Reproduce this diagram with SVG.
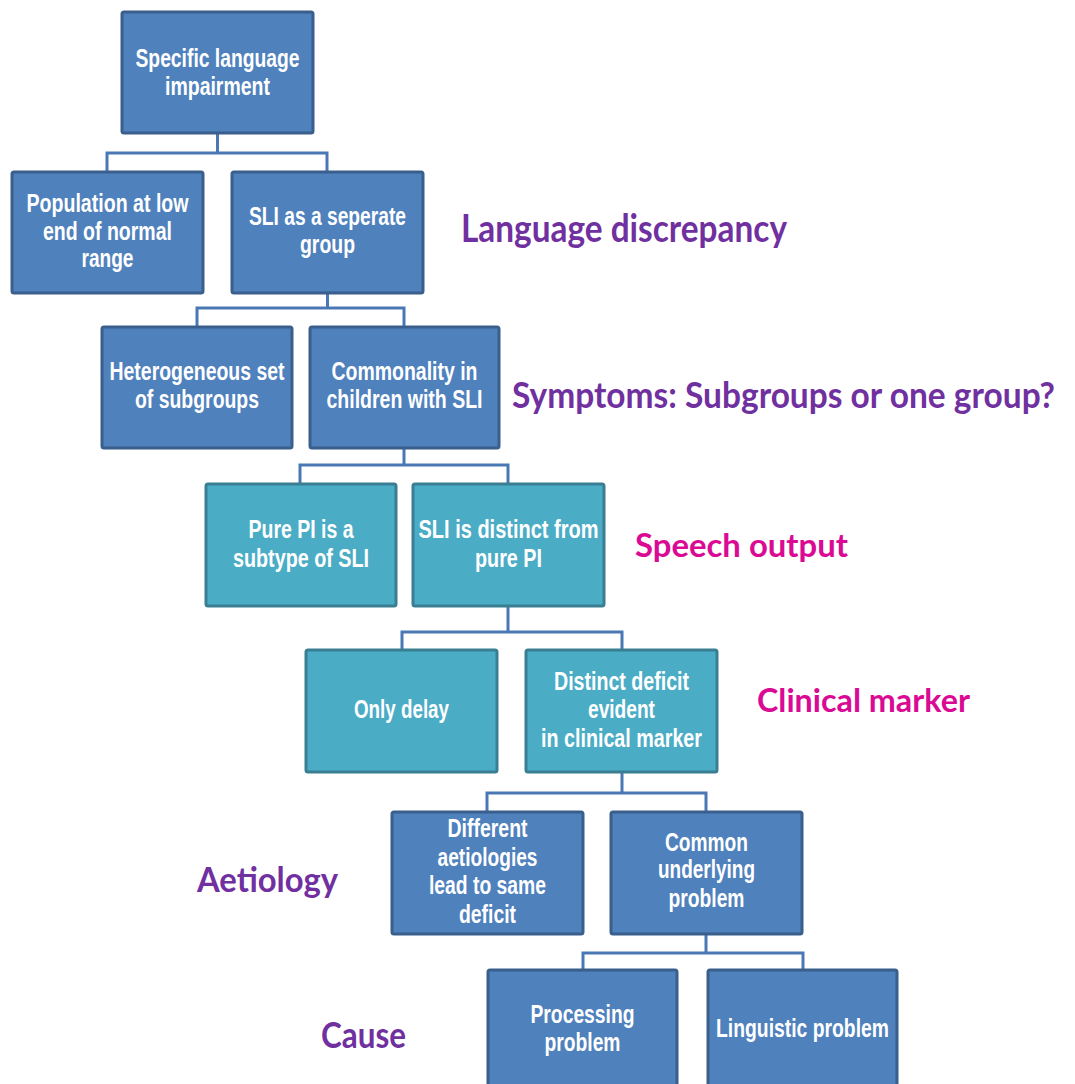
<svg xmlns="http://www.w3.org/2000/svg" width="1075" height="1084" viewBox="0 0 1075 1084">
<style>
.blue rect{fill:#4F81BD;stroke:#3A5F8C;stroke-width:3}
.teal rect{fill:#4BACC6;stroke:#3A7F91;stroke-width:3}
.node text{fill:#FFFFFF;font-family:"Liberation Sans",Arial,sans-serif;font-weight:bold;font-size:25px;text-anchor:middle}
.conn{fill:none;stroke:#4A78B5;stroke-width:3;stroke-linejoin:miter}
.lbl{font-family:Lato,"Open Sans",sans-serif;font-weight:bold}
.purple{fill:#7030A0}
.magenta{fill:#DA0A94}
</style>
<rect width="1075" height="1084" fill="#FFFFFF"/>
<g id="connectors">
<path class="conn" d="M217.5 133 V153 M107 172 V153 H327 V172"/>
<path class="conn" d="M327.5 293 V308 M197 327 V308 H404 V327"/>
<path class="conn" d="M404 448 V465 M300 484 V465 H508 V484"/>
<path class="conn" d="M508 606 V632 M402 650 V632 H622 V650"/>
<path class="conn" d="M622 772 V793 M487 812 V793 H706 V812"/>
<path class="conn" d="M706 934 V953 M583 970 V953 H803 V970"/>
</g>
<g id="n1" class="node blue"><rect x="122" y="12" width="191" height="121" rx="2"/>
<text x="217.5" y="67" textLength="164" lengthAdjust="spacingAndGlyphs">Specific language</text>
<text x="217.5" y="95" textLength="105" lengthAdjust="spacingAndGlyphs">impairment</text></g>
<g id="n2" class="node blue"><rect x="12" y="172" width="191" height="121" rx="2"/>
<text x="107.5" y="212" textLength="162" lengthAdjust="spacingAndGlyphs">Population at low</text>
<text x="107.5" y="240" textLength="129" lengthAdjust="spacingAndGlyphs">end of normal</text>
<text x="107.5" y="267" textLength="52" lengthAdjust="spacingAndGlyphs">range</text></g>
<g id="n3" class="node blue"><rect x="232" y="172" width="191" height="121" rx="2"/>
<text x="327.5" y="225" textLength="157" lengthAdjust="spacingAndGlyphs">SLI as a seperate</text>
<text x="327.5" y="253" textLength="55" lengthAdjust="spacingAndGlyphs">group</text></g>
<g id="n4" class="node blue"><rect x="102" y="327" width="190" height="121" rx="2"/>
<text x="197" y="380" textLength="175" lengthAdjust="spacingAndGlyphs">Heterogeneous set</text>
<text x="197" y="408" textLength="124" lengthAdjust="spacingAndGlyphs">of subgroups</text></g>
<g id="n5" class="node blue"><rect x="310" y="327" width="189" height="121" rx="2"/>
<text x="404.5" y="380" textLength="146" lengthAdjust="spacingAndGlyphs">Commonality in</text>
<text x="404.5" y="408" textLength="156" lengthAdjust="spacingAndGlyphs">children with SLI</text></g>
<g id="n6" class="node teal"><rect x="206" y="484" width="190" height="122" rx="2"/>
<text x="301" y="538" textLength="105" lengthAdjust="spacingAndGlyphs">Pure PI is a</text>
<text x="301" y="567" textLength="136" lengthAdjust="spacingAndGlyphs">subtype  of SLI</text></g>
<g id="n7" class="node teal"><rect x="413" y="484" width="191" height="122" rx="2"/>
<text x="508.5" y="538" textLength="180" lengthAdjust="spacingAndGlyphs">SLI  is distinct  from</text>
<text x="508.5" y="567" textLength="67" lengthAdjust="spacingAndGlyphs">pure PI</text></g>
<g id="n8" class="node teal"><rect x="306" y="650" width="191" height="122" rx="2"/>
<text x="401.5" y="718" textLength="95" lengthAdjust="spacingAndGlyphs">Only delay</text></g>
<g id="n9" class="node teal"><rect x="526" y="650" width="191" height="122" rx="2"/>
<text x="621.5" y="690" textLength="135" lengthAdjust="spacingAndGlyphs">Distinct deficit</text>
<text x="621.5" y="718" textLength="67" lengthAdjust="spacingAndGlyphs">evident</text>
<text x="621.5" y="747" textLength="161" lengthAdjust="spacingAndGlyphs">in clinical  marker</text></g>
<g id="n10" class="node blue"><rect x="392" y="812" width="191" height="122" rx="2"/>
<text x="487.5" y="837" textLength="80" lengthAdjust="spacingAndGlyphs">Different</text>
<text x="487.5" y="866" textLength="100" lengthAdjust="spacingAndGlyphs">aetiologies</text>
<text x="487.5" y="894" textLength="117" lengthAdjust="spacingAndGlyphs">lead to same</text>
<text x="487.5" y="923" textLength="57" lengthAdjust="spacingAndGlyphs">deficit</text></g>
<g id="n11" class="node blue"><rect x="611" y="812" width="191" height="122" rx="2"/>
<text x="706.5" y="851" textLength="83" lengthAdjust="spacingAndGlyphs">Common</text>
<text x="706.5" y="878" textLength="97" lengthAdjust="spacingAndGlyphs">underlying</text>
<text x="706.5" y="907" textLength="76" lengthAdjust="spacingAndGlyphs">problem</text></g>
<g id="n12" class="node blue"><rect x="488" y="970" width="189" height="125" rx="2"/>
<text x="582.5" y="1023" textLength="104" lengthAdjust="spacingAndGlyphs">Processing</text>
<text x="582.5" y="1051" textLength="76" lengthAdjust="spacingAndGlyphs">problem</text></g>
<g id="n13" class="node blue"><rect x="708" y="970" width="189" height="125" rx="2"/>
<text x="802.5" y="1037" textLength="173" lengthAdjust="spacingAndGlyphs">Linguistic problem</text></g>
<g id="labels">
<text class="lbl purple" x="461" y="242" font-size="39" textLength="326" lengthAdjust="spacingAndGlyphs">Language discrepancy</text>
<text class="lbl purple" transform="translate(512 408) scale(1 1.19)" x="0" y="0" font-size="31" textLength="543" lengthAdjust="spacingAndGlyphs">Symptoms: Subgroups or one group?</text>
<text class="lbl magenta" x="635" y="557" font-size="32" textLength="213" lengthAdjust="spacingAndGlyphs">Speech output</text>
<text class="lbl magenta" x="757" y="712" font-size="33" textLength="213" lengthAdjust="spacingAndGlyphs">Clinical marker</text>
<text class="lbl purple" x="197" y="892" font-size="35" textLength="141" lengthAdjust="spacingAndGlyphs">Aetiology</text>
<text class="lbl purple" x="321" y="1048" font-size="36" textLength="85" lengthAdjust="spacingAndGlyphs">Cause</text>
</g>
</svg>
